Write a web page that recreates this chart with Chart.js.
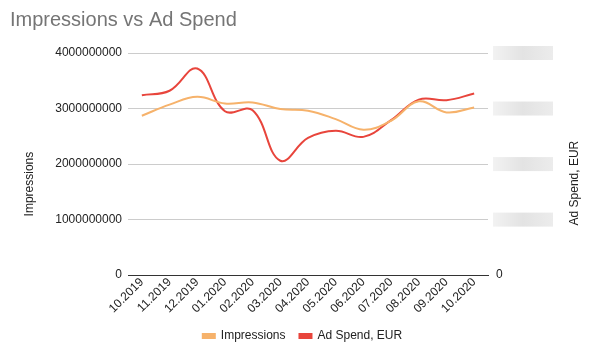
<!DOCTYPE html>
<html>
<head>
<meta charset="utf-8">
<script src="https://cdn.jsdelivr.net/npm/chart.js@4/dist/chart.umd.min.js"></script>
<style>
  html, body { margin: 0; padding: 0; background: #fff; }
  #wrap { width: 605px; height: 358px; }
</style>
</head>
<body>
<div id="wrap"><canvas id="chart" width="605" height="358"></canvas></div>
<script>
const months = ['10.2019', '11.2019', '12.2019', '01.2020', '02.2020', '03.2020', '04.2020',
                '05.2020', '06.2020', '07.2020', '08.2020', '09.2020', '10.2020'];
const impressions = [2870000000, 3070000000, 3210000000, 3090000000, 3110000000, 2990000000, 2960000000,
                     2810000000, 2620000000, 2780000000, 3130000000, 2930000000, 3020000000];
// right axis labels are hidden in the picture, so spend is kept on an own 0..40000 scale
const adSpend = [32400, 33200, 37200, 29500, 29700, 20600, 24700,
                 26000, 24900, 27900, 31600, 31500, 32700];
const leftTicks = [0, 1000000000, 2000000000, 3000000000, 4000000000];
const rightTicks = [0, 10000, 20000, 30000, 40000];

Chart.defaults.font.family = "'Liberation Sans', Arial, sans-serif";
Chart.defaults.color = '#222';

// blurred boxes where the right axis labels were, plus both axis titles
const axisExtras = {
    id: 'axisExtras',
    afterDraw(chart) {
        const scale = chart.scales.y1;
        const area = chart.chartArea;
        const mid = (area.top + area.bottom) / 2;
        const ctx = chart.ctx;
        ctx.save();
        rightTicks.forEach(v => {
            if (v === 0) return;
            const y = scale.getPixelForValue(v);
            const x = scale.left + 5;
            const g = ctx.createLinearGradient(x, 0, x + 60, 0);
            g.addColorStop(0, '#f2f2f2');
            g.addColorStop(0.5, '#e3e3e3');
            g.addColorStop(1, '#ececec');
            ctx.fillStyle = g;
            ctx.fillRect(x, y - 7, 60, 14);
        });
        ctx.fillStyle = '#222';
        ctx.font = "12px 'Liberation Sans', Arial, sans-serif";
        ctx.textAlign = 'center';
        ctx.textBaseline = 'middle';

        ctx.save();
        ctx.translate(30, mid + 20);
        ctx.rotate(-Math.PI / 2);
        ctx.fillText('Impressions', 0, 0);
        ctx.restore();

        ctx.translate(575, mid + 19);
        ctx.rotate(-Math.PI / 2);
        ctx.fillText('Ad Spend, EUR', 0, 0);
        ctx.restore();
    }
};

new Chart(document.getElementById('chart').getContext('2d'), {
    type: 'line',
    data: {
        labels: months,
        datasets: [{
            label: 'Impressions',
            data: impressions,
            borderColor: '#f6b26b',
            backgroundColor: '#f6b26b',
            borderWidth: 2,
            tension: 0.4,
            pointRadius: 0,
            yAxisID: 'y'
        }, {
            label: 'Ad Spend, EUR',
            data: adSpend,
            borderColor: '#e8453c',
            backgroundColor: '#e8453c',
            borderWidth: 2,
            tension: 0.4,
            pointRadius: 0,
            yAxisID: 'y1'
        }]
    },
    options: {
        responsive: false,
        animation: false,
        layout: { padding: { left: 10, right: 10, top: 0, bottom: 6 } },
        plugins: {
            title: {
                display: true,
                text: 'Impressions vs Ad Spend',
                align: 'start',
                color: '#757575',
                font: { size: 20, weight: 'normal' },
                padding: { top: 8, bottom: 21 }
            },
            legend: {
                position: 'bottom',
                labels: {
                    boxWidth: 12,
                    boxHeight: 4,
                    color: '#222',
                    font: { size: 12 },
                    padding: 14
                }
            },
            tooltip: { enabled: false }
        },
        scales: {
            x: {
                offset: true,
                grid: { display: false, drawTicks: false },
                border: { color: '#333', width: 1 },
                ticks: {
                    minRotation: 45,
                    maxRotation: 45,
                    font: { size: 12 },
                    padding: 0
                }
            },
            y: {
                position: 'left',
                min: 0,
                max: 4000000000,
                afterBuildTicks: axis => { axis.ticks = leftTicks.map(v => ({ value: v })); },
                grid: { color: '#cccccc', drawTicks: false },
                border: { display: false },
                ticks: { font: { size: 12 }, padding: 6, callback: v => String(v) },
                afterFit: axis => { axis.width = 118; }
            },
            y1: {
                position: 'right',
                min: 0,
                max: 40000,
                afterBuildTicks: axis => { axis.ticks = rightTicks.map(v => ({ value: v })); },
                grid: { drawOnChartArea: false, drawTicks: false, display: false },
                border: { display: false },
                ticks: {
                    font: { size: 12 },
                    padding: 8,
                    callback: v => v === 0 ? '0' : '',
                    color: '#222'
                },
                afterFit: axis => { axis.width = 107; }
            }
        }
    },
    plugins: [axisExtras]
});
</script>
</body>
</html>
